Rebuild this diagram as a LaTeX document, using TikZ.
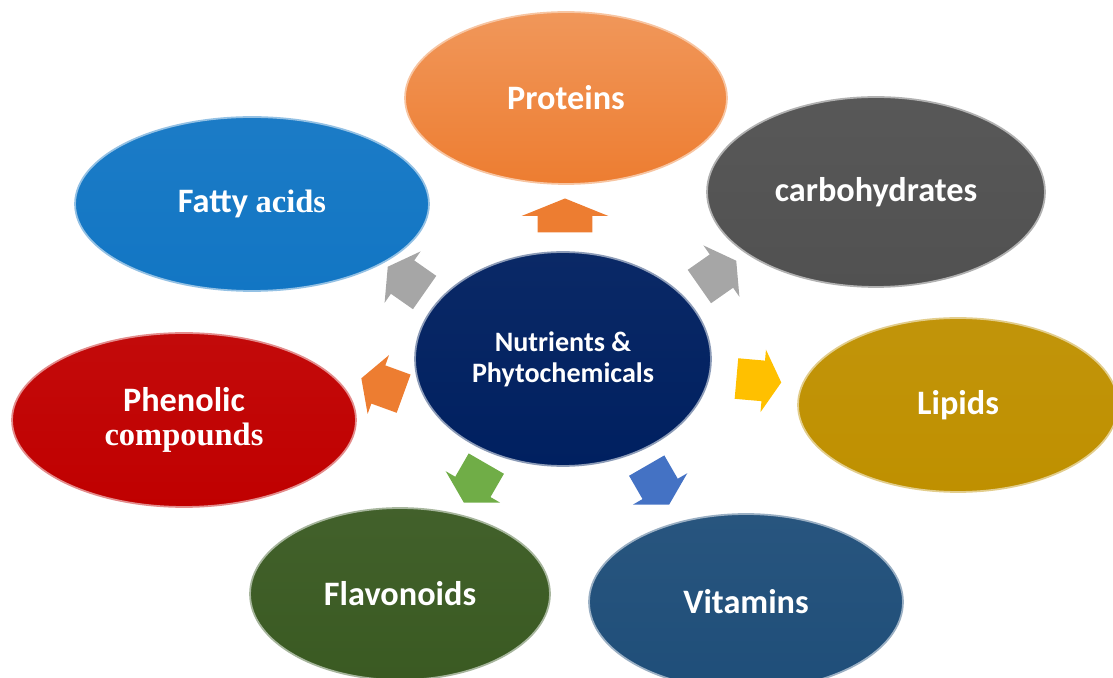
\documentclass[tikz,border=0pt]{standalone}
\usepackage{fontspec}
\setmainfont{Carlito}
\newfontfamily\tnr{Liberation Serif}
\usetikzlibrary{shapes,arrows,positioning}
\definecolor{protO}{HTML}{ED7D31}
\definecolor{carbG}{HTML}{515151}
\definecolor{fatB}{HTML}{1276C4}
\definecolor{navyC}{HTML}{002060}
\definecolor{phenR}{HTML}{C00000}
\definecolor{lipY}{HTML}{BF9000}
\definecolor{flavG}{HTML}{3A5A22}
\definecolor{vitB}{HTML}{1F4E79}
\definecolor{arrO}{HTML}{ED7D31}
\definecolor{arrG}{HTML}{A6A6A6}
\definecolor{arrY}{HTML}{FFC000}
\definecolor{arrGr}{HTML}{70AD47}
\definecolor{arrB}{HTML}{4472C4}

\begin{document}
\begin{tikzpicture}[x=0.02cm,y=-0.02cm]

\tikzset{
	bub/.style={
		ellipse,
		draw=#1!45!white,
		line width=1pt,
		top color=#1!96!white,
		bottom color=#1,
		text=white,
		inner sep=0pt,
		outer sep=0pt,
		align=center,
		font=\bfseries\fontsize{19.5}{19}\selectfont},
	blk/.style={
		single arrow,
		draw=none,
		fill=#1,
		minimum height=0.9cm,
		minimum width=1.24cm,
		single arrow head extend=0.22cm,
		single arrow tip angle=120,
		inner xsep=0pt,
		inner ysep=0.4cm}
}

\useasboundingbox (0,0) rectangle (1113,678);

% centre
\node[bub=navyC,minimum width=5.92cm,minimum height=4.28cm,
	font=\bfseries\fontsize{16}{17.5}\selectfont] (nut) at (563,359) {Nutrients \&\\Phytochemicals};

% outer ring
\node[bub=protO,minimum width=6.44cm,minimum height=3.44cm,top color=protO!80!white] (prot) at (566,98) {Proteins};
\node[bub=carbG,minimum width=6.76cm,minimum height=3.80cm] (carb) at (876,192) {carbohydrates};
\node[bub=fatB,minimum width=7.08cm,minimum height=3.48cm] (fat) at (252,204) {Fatty {\tnr\fontsize{18.5}{19}\selectfont acids}};
\node[bub=phenR,minimum width=6.88cm,minimum height=3.48cm] (phen) at (184,420) {Phenolic\\{\tnr\fontsize{18.5}{19}\selectfont compounds}};
\node[bub=lipY,minimum width=6.40cm,minimum height=3.48cm] (lip) at (958,405) {Lipids};
\node[bub=flavG,minimum width=6.00cm,minimum height=3.44cm] (flav) at (400,594) {Flavonoids};
\node[bub=vitB,minimum width=6.28cm,minimum height=3.52cm] (vit) at (746,602) {Vitamins};

% block arrows
\node[blk=arrO,rotate=90,minimum height=0.68cm,minimum width=1.72cm,inner ysep=0.54cm,
	single arrow head extend=0.32cm,single arrow tip angle=136] (aprot) at (565,221) {};
\node[blk=arrG,rotate=35] (acarb) at (713,277) {};
\node[blk=arrG,rotate=145] (afat) at (411,283) {};
\node[blk=arrO,rotate=160] (aphen) at (388,388) {};
\node[blk=arrY,rotate=-5] (alip) at (753,380) {};
\node[blk=arrGr,rotate=240] (aflav) at (478,478) {};
\node[blk=arrB,rotate=-60] (avit) at (655,480) {};

\end{tikzpicture}
\end{document}
